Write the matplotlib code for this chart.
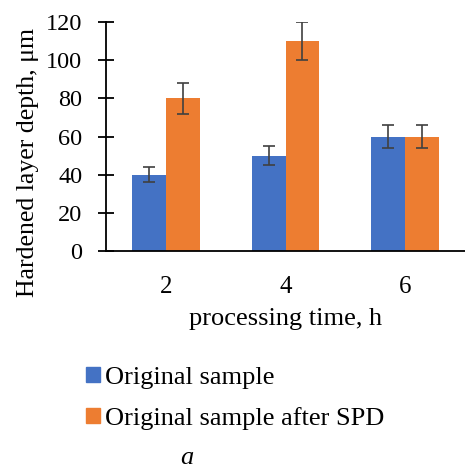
import matplotlib.pyplot as plt
import numpy as np
from matplotlib.patches import Patch

plt.rcParams['font.family'] = 'Liberation Serif'

times = ['2', '4', '6']
original = [40, 50, 60]
original_err = [4, 5, 6]
after_spd = [80, 110, 60]
after_spd_err = [8, 10, 6]
series_names = ['Original sample', 'Original sample after SPD']

blue = '#4472C4'
orange = '#ED7D31'

fig = plt.figure(figsize=(4.65, 4.69), dpi=100)
ax = fig.add_axes([106/465, 1 - 251/469, 1 - 106/465, (251 - 22)/469])

x = np.arange(len(times))
w = 0.283
ekw = dict(ecolor='#404040', elinewidth=1.2, capsize=4, capthick=1.2)
ax.bar(x - w/2, original, w, color=blue, yerr=original_err, error_kw=ekw)
ax.bar(x + w/2, after_spd, w, color=orange, yerr=after_spd_err, error_kw=ekw)

ax.set_xlim(-0.5, 2.5)
ax.set_ylim(0, 120)
ax.set_yticks(range(0, 121, 20))
ax.set_xticks(x)
ax.set_xticklabels(times)
ax.tick_params(axis='y', direction='inout', length=12, width=1.3, labelsize=17.5, pad=11)
ax.tick_params(axis='x', length=0, labelsize=18, pad=18)
for s in ['top', 'right']:
    ax.spines[s].set_visible(False)
ax.spines['left'].set_linewidth(1.3)
ax.spines['bottom'].set_linewidth(1.3)

ax.set_ylabel('Hardened layer depth, μm', fontsize=18.5)
ax.yaxis.set_label_coords((39 - 106) / 359, (251 - 162) / 229)
ax.set_xlabel('processing time, h', fontsize=19, labelpad=7)

handles = [Patch(color=blue), Patch(color=orange)]
fig.legend(handles, series_names, loc='upper left', bbox_to_anchor=(62/465, 1 - 343/469),
           frameon=False, fontsize=19, handlelength=0.53, handleheight=0.53,
           handletextpad=0.2, labelspacing=0.68)

fig.text(187/465, 1 - 458/469, 'a', fontsize=19, style='italic', ha='center', va='center')

fig.savefig('out.png', dpi=100)
